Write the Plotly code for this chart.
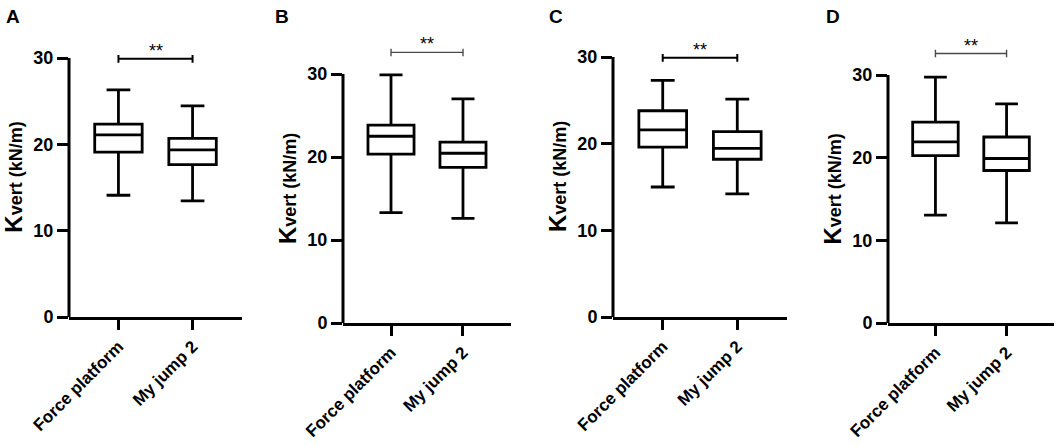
import plotly.graph_objects as go

# box summaries (kN/m)
categories = ["Force platform", "My jump 2"]
panels = ["A", "B", "C", "D"]

lower_whisker = [[14.1, 13.45], [13.3, 12.6], [15.0, 14.2], [13.05, 12.1]]
q1_vals = [[19.1, 17.65], [20.35, 18.75], [19.6, 18.2], [20.25, 18.45]]
median_vals = [[21.1, 19.35], [22.5, 20.45], [21.6, 19.45], [21.9, 19.9]]
q3_vals = [[22.35, 20.7], [23.85, 21.8], [23.8, 21.4], [24.3, 22.5]]
upper_whisker = [[26.3, 24.45], [29.9, 27.0], [27.3, 25.15], [29.75, 26.5]]

signif_y = [29.9, 32.6, 29.9, 32.6]
signif_text = ["**", "**", "**", "**"]

y_ticks = [0, 10, 20, 30]

# pixel layout of each panel: axis left, axis right, y(30), y(0), letter x
W, H = 1056, 446
geom = [(69, 242, 58, 317, 4), (343, 511, 74, 323, 273),
        (613, 787, 57, 317, 547), (888, 1054, 75, 323, 824)]
bracket_style = [("black", 2), ("#4a4a4a", 1.4), ("black", 2), ("#4a4a4a", 1.4)]
YTOP = 36

FONT = "Liberation Sans, Arial, Helvetica, sans-serif"

fig = go.Figure()
layout = dict(template="none", width=W, height=H,
              margin=dict(l=0, r=0, t=0, b=0, autoexpand=False),
              plot_bgcolor="white", paper_bgcolor="white", showlegend=False,
              font=dict(family=FONT, color="black"))
shapes = []
annotations = []

for i, p in enumerate(panels):
    n = "" if i == 0 else str(i + 1)
    xl, xr, y30, y0, lx = geom[i]
    ytop_px = y0 - (y0 - y30) * YTOP / 30.0

    fig.add_trace(go.Box(
        x=[0, 1],
        lowerfence=lower_whisker[i], q1=q1_vals[i], median=median_vals[i],
        q3=q3_vals[i], upperfence=upper_whisker[i],
        width=0.64, whiskerwidth=0.5, boxpoints=False,
        line=dict(color="black", width=2.8), fillcolor="white",
        xaxis="x" + n, yaxis="y" + n, hoverinfo="skip"))

    layout["xaxis" + n] = dict(
        domain=[xl / W, xr / W], anchor="y" + n, range=[-0.667, 1.667],
        automargin=False,
        tickvals=[0, 1], ticktext=categories, tickangle=-45,
        showline=True, linecolor="black", linewidth=3,
        ticks="outside", ticklen=10, tickwidth=3, tickcolor="black",
        showgrid=False, zeroline=False,
        tickfont=dict(family=FONT, size=17, weight="bold", color="black"))
    layout["yaxis" + n] = dict(
        domain=[1 - y0 / H, 1 - ytop_px / H], anchor="x" + n, range=[0, YTOP],
        automargin=False,
        tickvals=y_ticks, showline=False,
        ticks="outside", ticklen=11, tickwidth=3, tickcolor="black",
        showgrid=False, zeroline=False,
        tickfont=dict(family=FONT, size=18, weight="bold", color="black"))

    xr_ref, yr_ref = "x" + n, "y" + n
    # y axis line only up to 30
    shapes.append(dict(type="line", xref=xr_ref + " domain", yref=yr_ref,
                       x0=0, x1=0, y0=0, y1=30,
                       line=dict(color="black", width=3)))
    # significance bracket
    bc, bw = bracket_style[i]
    sy = signif_y[i]
    shapes.append(dict(type="line", xref=xr_ref, yref=yr_ref, x0=0, x1=1,
                       y0=sy, y1=sy, line=dict(color=bc, width=bw)))
    for xx in (0, 1):
        shapes.append(dict(type="line", xref=xr_ref, yref=yr_ref, x0=xx, x1=xx,
                           y0=sy - 0.45, y1=sy + 0.45,
                           line=dict(color=bc, width=bw)))
    annotations.append(dict(xref=xr_ref, yref=yr_ref, x=0.5, y=sy,
                            text=signif_text[i], showarrow=False,
                            yanchor="bottom", yshift=-4,
                            font=dict(family=FONT, size=18, color="black")))
    # y title
    annotations.append(dict(
        xref=xr_ref + " domain", yref=yr_ref, x=0, y=16.2,
        xanchor="right", yanchor="middle", xshift=-40, textangle=-90,
        showarrow=False,
        text="<span style='font-size:24px'>K</span>vert (kN/m)",
        font=dict(family=FONT, size=18, weight="bold", color="black")))
    # panel letter
    annotations.append(dict(
        xref="paper", yref="paper", x=lx / W, y=1 - 4 / H,
        xanchor="left", yanchor="top", showarrow=False, text=p,
        font=dict(family=FONT, size=19, weight="bold", color="black")))

layout["shapes"] = shapes
layout["annotations"] = annotations
fig.update_layout(**layout)

# the page body has a default margin; drop it so the figure fills the window
fig.write_html("out.html", config={"displayModeBar": False},
               post_script="document.body.style.margin='0px';")
